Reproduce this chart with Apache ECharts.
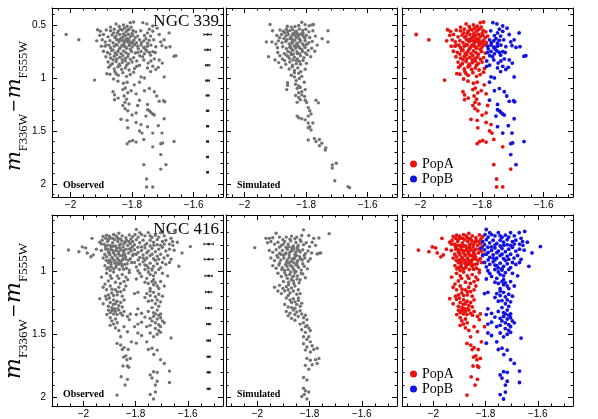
<!DOCTYPE html>
<html>
<head>
<meta charset="utf-8">
<script src="https://cdn.jsdelivr.net/npm/echarts@6/dist/echarts.min.js"></script>
<style>
  html, body { margin: 0; padding: 0; background: #fff; }
  #chart { width: 598px; height: 419px; }
</style>
</head>
<body>
<div id="chart"></div>
<script>
// tick labels
const xTicks = [-2, -1.8, -1.6];
const topYTicks = [0.5, 1, 1.5, 2];
const bottomYTicks = [1, 1.5, 2];

// photometric error bars (magnitude bins and half widths)
const topErrY = [0.59, 0.735, 0.88, 1.025, 1.165, 1.31, 1.455, 1.6, 1.745, 1.89];
const topErrX = [0.012, 0.009, 0.007, 0.006, 0.005, 0.004, 0.0035, 0.003, 0.003, 0.0025];
const bottomErrY = [0.79, 0.91, 1.04, 1.168, 1.294, 1.42, 1.55, 1.677, 1.8, 1.93];
const bottomErrX = [0.018, 0.017, 0.014, 0.012, 0.011, 0.008, 0.007, 0.006, 0.006, 0.006];

// NGC 339 observed, split in the two populations
const ngc339PopA = [
  [-1.852,0.490],[-1.828,0.500],[-1.806,0.478],[-1.795,0.472],[-1.842,0.515],[-1.816,0.512],[-1.870,0.520],[-1.803,0.520],
  [-1.912,0.545],[-1.903,0.560],[-1.884,0.548],[-1.870,0.555],[-1.858,0.540],[-1.845,0.558],[-1.832,0.548],[-1.820,0.565],[-1.810,0.540],[-1.797,0.552],[-1.788,0.565],[-1.860,0.575],[-1.825,0.530],
  [-1.905,0.598],[-1.893,0.590],[-1.878,0.612],[-1.865,0.595],[-1.852,0.605],[-1.840,0.590],[-1.830,0.615],[-1.822,0.600],[-1.812,0.588],[-1.805,0.610],[-1.798,0.596],[-1.790,0.620],[-1.782,0.605],[-1.836,0.625],[-1.815,0.628],
  [-1.915,0.650],[-1.897,0.640],[-1.887,0.660],[-1.872,0.648],[-1.862,0.668],[-1.850,0.640],[-1.842,0.658],[-1.833,0.645],[-1.826,0.672],[-1.818,0.652],[-1.810,0.640],[-1.803,0.662],[-1.795,0.645],[-1.786,0.668],[-1.808,0.678],[-1.820,0.635],
  [-1.900,0.700],[-1.884,0.690],[-1.870,0.715],[-1.858,0.700],[-1.848,0.690],[-1.838,0.712],[-1.828,0.698],[-1.818,0.720],[-1.810,0.695],[-1.800,0.708],[-1.792,0.688],[-1.842,0.728],[-1.875,0.690],
  [-1.893,0.748],[-1.880,0.760],[-1.866,0.742],[-1.855,0.765],[-1.846,0.750],[-1.836,0.770],[-1.828,0.745],[-1.820,0.762],[-1.812,0.775],[-1.802,0.750],[-1.790,0.765],[-1.872,0.775],
  [-1.885,0.800],[-1.870,0.812],[-1.858,0.795],[-1.850,0.820],[-1.840,0.805],[-1.830,0.790],[-1.822,0.815],[-1.814,0.800],[-1.805,0.825],[-1.795,0.808],[-1.862,0.828],
  [-1.878,0.850],[-1.864,0.865],[-1.852,0.845],[-1.842,0.870],[-1.832,0.855],[-1.822,0.840],[-1.812,0.862],[-1.800,0.850],[-1.870,0.880],
  [-1.876,0.900],[-1.858,0.915],[-1.846,0.895],[-1.834,0.920],[-1.822,0.905],[-1.810,0.925],[-1.792,0.910],[-1.840,0.885],
  [-1.882,0.960],[-1.872,0.965],[-1.852,0.960],[-1.845,0.975],[-1.830,0.950],[-1.818,0.985],[-1.806,0.968],[-1.795,0.945],
  [-1.838,0.540],[-1.815,0.550],[-1.848,0.575],[-1.828,0.585],[-1.800,0.580],[-1.856,0.618],[-1.843,0.638],[-1.826,0.652],[-1.812,0.662],[-1.798,0.672],
  [-1.852,0.685],[-1.833,0.690],[-1.822,0.705],[-1.806,0.730],[-1.862,0.735],[-1.850,0.780],[-1.832,0.828],[-1.818,0.880],[-1.856,0.940],[-1.888,0.700],
  [-2.014,0.590],[-1.973,0.640],[-1.922,1.020],
  [-1.846,1.030],[-1.828,1.050],[-1.816,1.040],[-1.793,1.065],[-1.860,1.010],
  [-1.862,1.130],[-1.857,1.160],[-1.830,1.110],[-1.822,1.095],[-1.814,1.140],[-1.803,1.120],[-1.787,1.150],[-1.826,1.170],
  [-1.857,1.205],[-1.845,1.190],[-1.823,1.230],[-1.818,1.200],[-1.810,1.245],[-1.782,1.260],[-1.830,1.260],
  [-1.823,1.290],[-1.814,1.310],[-1.787,1.330],[-1.800,1.350],
  [-1.836,1.390],[-1.816,1.400],[-1.787,1.420],[-1.771,1.440],
  [-1.814,1.470],[-1.776,1.500],[-1.768,1.520],
  [-1.816,1.620],[-1.798,1.590],[-1.787,1.605],[-1.762,1.580],[-1.733,1.650],[-1.808,1.600],
  [-1.762,1.818],[-1.707,1.860],[-1.753,1.953],[-1.753,2.028],[-1.733,2.028]
];
const ngc339PopB = [
  [-1.765,0.478],[-1.752,0.490],[-1.733,0.510],[-1.719,0.530],[-1.744,0.540],
  [-1.750,0.575],[-1.733,0.560],[-1.712,0.590],[-1.680,0.575],[-1.740,0.605],[-1.760,0.600],
  [-1.776,0.640],[-1.762,0.650],[-1.755,0.630],[-1.744,0.645],[-1.730,0.640],[-1.707,0.660],[-1.696,0.640],[-1.770,0.668],[-1.750,0.672],
  [-1.782,0.700],[-1.771,0.690],[-1.762,0.712],[-1.750,0.700],[-1.739,0.690],[-1.723,0.705],[-1.703,0.695],[-1.690,0.712],[-1.677,0.705],[-1.757,0.730],[-1.780,0.725],
  [-1.782,0.760],[-1.771,0.750],[-1.760,0.772],[-1.744,0.760],[-1.733,0.752],[-1.664,0.795],[-1.658,0.790],[-1.775,0.790],[-1.740,0.785],
  [-1.762,0.830],[-1.739,0.840],[-1.728,0.820],[-1.712,0.830],[-1.748,0.860],
  [-1.785,0.890],[-1.776,0.880],[-1.750,0.905],[-1.733,0.890],[-1.723,0.920],[-1.715,0.900],
  [-1.772,0.555],[-1.760,0.710],[-1.752,0.745],[-1.725,0.760],[-1.766,0.800],[-1.785,0.840],[-1.702,0.860],[-1.740,0.940],[-1.760,1.000],[-1.720,1.170],
  [-1.771,0.990],[-1.696,0.990],[-1.776,1.040],
  [-1.744,1.100],[-1.728,1.130],[-1.760,1.120],
  [-1.712,1.220],[-1.698,1.215],[-1.694,1.225],[-1.776,1.210],[-1.750,1.250],
  [-1.750,1.300],[-1.744,1.310],[-1.733,1.340],[-1.739,1.325],[-1.728,1.350],[-1.755,1.360],[-1.696,1.385],
  [-1.750,1.460],[-1.715,1.450],[-1.733,1.520],[-1.703,1.520],
  [-1.701,1.613],[-1.664,1.600],[-1.707,1.620],[-1.707,1.723],
  [-1.690,1.818]
];
const ngc339Sim = [
  [-1.917,0.495],[-1.861,0.512],[-1.848,0.520],[-1.814,0.475],[-1.803,0.497],[-1.790,0.507],[-1.781,0.500],[-1.776,0.495],[-1.824,0.505],[-1.836,0.515],
  [-1.909,0.555],[-1.885,0.548],[-1.874,0.560],[-1.864,0.540],[-1.853,0.553],[-1.843,0.545],[-1.832,0.560],[-1.822,0.538],[-1.811,0.552],[-1.801,0.540],[-1.791,0.565],[-1.778,0.555],[-1.729,0.555],[-1.869,0.575],[-1.838,0.575],[-1.810,0.578],
  [-1.895,0.600],[-1.880,0.590],[-1.866,0.605],[-1.858,0.590],[-1.849,0.612],[-1.841,0.595],[-1.832,0.620],[-1.825,0.600],[-1.817,0.585],[-1.808,0.610],[-1.799,0.598],[-1.788,0.618],[-1.770,0.605],[-1.748,0.630],[-1.845,0.635],[-1.822,0.630],[-1.872,0.628],
  [-1.929,0.660],[-1.911,0.660],[-1.890,0.650],[-1.878,0.668],[-1.866,0.655],[-1.855,0.678],[-1.846,0.660],[-1.837,0.645],[-1.830,0.672],[-1.820,0.658],[-1.811,0.680],[-1.803,0.650],[-1.791,0.668],[-1.780,0.655],[-1.729,0.660],[-1.764,0.690],[-1.851,0.695],[-1.827,0.695],
  [-1.893,0.715],[-1.876,0.705],[-1.864,0.725],[-1.853,0.710],[-1.843,0.738],[-1.834,0.718],[-1.824,0.705],[-1.814,0.730],[-1.803,0.712],[-1.793,0.740],[-1.782,0.720],[-1.772,0.748],[-1.859,0.750],[-1.830,0.752],
  [-1.922,0.800],[-1.885,0.790],[-1.871,0.770],[-1.859,0.795],[-1.848,0.780],[-1.838,0.805],[-1.828,0.770],[-1.818,0.790],[-1.807,0.810],[-1.797,0.780],[-1.785,0.800],[-1.841,0.775],
  [-1.901,0.830],[-1.889,0.855],[-1.870,0.835],[-1.853,0.850],[-1.843,0.830],[-1.832,0.865],[-1.822,0.845],[-1.810,0.835],[-1.799,0.862],[-1.866,0.870],[-1.832,0.835],
  [-1.881,0.900],[-1.855,0.915],[-1.845,0.895],[-1.838,0.930],[-1.827,0.905],[-1.817,0.940],[-1.803,0.918],[-1.838,0.950],[-1.824,0.955],
  [-1.848,0.975],[-1.838,0.990],[-1.822,1.005],[-1.814,0.985],[-1.832,1.025],[-1.806,1.040],
  [-1.860,1.045],[-1.860,1.070],[-1.863,1.110],[-1.834,1.060],[-1.824,1.075],[-1.819,1.090],[-1.829,1.100],[-1.814,1.130],[-1.803,1.110],[-1.824,1.140],
  [-1.834,1.165],[-1.824,1.185],[-1.814,1.160],[-1.805,1.175],[-1.819,1.205],[-1.803,1.210],[-1.798,1.232],[-1.768,1.210],[-1.760,1.235],[-1.829,1.230],
  [-1.793,1.280],[-1.788,1.310],[-1.784,1.340],[-1.793,1.360],[-1.829,1.360],[-1.824,1.375],[-1.814,1.385],[-1.803,1.395],[-1.793,1.425],
  [-1.778,1.425],[-1.788,1.460],[-1.784,1.490],[-1.793,1.470],
  [-1.793,1.585],[-1.773,1.570],[-1.757,1.580],[-1.768,1.600],[-1.749,1.615],[-1.757,1.640],[-1.736,1.660],[-1.738,1.680],
  [-1.715,1.820],[-1.715,1.850],[-1.702,1.805],[-1.707,1.970],[-1.664,2.025],[-1.659,2.035],
  [-1.860,0.565],[-1.844,0.585],[-1.828,0.582],[-1.812,0.595],[-1.804,0.625],[-1.818,0.645],[-1.834,0.600],[-1.852,0.628],[-1.862,0.640],[-1.844,0.670],
  [-1.832,0.690],[-1.820,0.720],[-1.807,0.695],[-1.798,0.682],[-1.838,0.700],[-1.848,0.725],[-1.812,0.750],[-1.802,0.765],[-1.822,0.770],[-1.850,0.762],
  [-1.864,0.785],[-1.854,0.815],[-1.828,0.820],[-1.818,0.870],[-1.844,0.880],[-1.877,0.820],[-1.892,0.760],[-1.898,0.680],[-1.886,0.620]
];

// NGC 416 observed, split in the two populations
const ngc416PopA = [
  [-2.057,0.837],[-2.017,0.850],[-2.004,0.812],[-1.991,0.820],[-1.967,0.745],[-1.971,0.890],[-1.962,0.875],[-1.931,0.790],[-1.950,0.830],[-1.985,0.860],
  [-1.924,0.730],[-1.911,0.720],[-1.897,0.742],[-1.884,0.715],[-1.871,0.735],[-1.864,0.705],[-1.851,0.725],[-1.837,0.740],[-1.824,0.718],[-1.811,0.732],[-1.880,0.755],[-1.857,0.750],[-1.904,0.755],
  [-1.937,0.775],[-1.920,0.790],[-1.907,0.770],[-1.897,0.800],[-1.888,0.780],[-1.877,0.805],[-1.868,0.770],[-1.858,0.790],[-1.848,0.812],[-1.840,0.775],[-1.830,0.800],[-1.820,0.785],[-1.812,0.810],[-1.893,0.815],[-1.862,0.818],
  [-1.931,0.840],[-1.914,0.830],[-1.904,0.852],[-1.894,0.835],[-1.884,0.860],[-1.874,0.840],[-1.866,0.865],[-1.856,0.835],[-1.846,0.855],[-1.836,0.830],[-1.827,0.860],[-1.817,0.845],[-1.808,0.870],[-1.898,0.875],[-1.878,0.878],[-1.850,0.880],
  [-1.924,0.900],[-1.911,0.890],[-1.900,0.915],[-1.890,0.895],[-1.880,0.920],[-1.870,0.900],[-1.860,0.925],[-1.848,0.905],[-1.838,0.890],[-1.828,0.918],[-1.815,0.935],[-1.904,0.935],[-1.870,0.938],
  [-1.917,0.960],[-1.904,0.975],[-1.894,0.950],[-1.884,0.985],[-1.874,0.960],[-1.862,0.990],[-1.851,0.965],[-1.835,0.980],[-1.824,0.995],[-1.897,0.998],[-1.864,0.948],
  [-1.915,0.810],[-1.900,0.862],[-1.887,0.905],[-1.872,0.822],[-1.860,0.880],[-1.842,0.870],[-1.832,0.945],[-1.820,0.905],[-1.888,0.745],[-1.866,0.748],
  [-1.845,0.790],[-1.908,0.800],[-1.879,0.940],[-1.854,0.945],[-1.893,0.970],[-1.841,0.950],[-1.918,0.870],[-1.862,0.798],[-1.826,0.770],[-1.884,0.805],
  [-1.928,0.760],[-1.914,0.745],[-1.900,0.728],[-1.875,0.725],[-1.852,0.765],[-1.835,0.760],[-1.818,0.750],[-1.906,0.830],[-1.886,0.842],[-1.864,0.850],
  [-1.844,0.838],[-1.823,0.828],[-1.912,0.918],[-1.893,0.930],[-1.866,0.912],[-1.852,0.918],[-1.838,0.908],[-1.910,0.985],[-1.876,0.975],[-1.846,0.988],
  [-1.911,1.020],[-1.897,1.040],[-1.884,1.010],[-1.864,1.060],[-1.851,1.030],[-1.837,1.050],[-1.824,1.015],[-1.904,1.080],[-1.877,1.090],[-1.844,1.085],[-1.830,1.070],
  [-1.930,1.050],[-1.892,1.060],[-1.870,1.040],[-1.858,1.100],[-1.917,1.105],
  [-1.924,1.130],[-1.911,1.150],[-1.897,1.120],[-1.891,1.175],[-1.877,1.150],[-1.864,1.130],[-1.857,1.165],[-1.844,1.150],[-1.837,1.120],[-1.904,1.190],[-1.884,1.195],[-1.870,1.190],[-1.851,1.200],
  [-1.890,1.145],[-1.870,1.165],[-1.915,1.200],[-1.900,1.215],
  [-1.937,1.220],[-1.911,1.225],[-1.897,1.250],[-1.884,1.230],[-1.877,1.260],[-1.871,1.240],[-1.864,1.275],[-1.857,1.250],[-1.851,1.285],[-1.904,1.280],[-1.891,1.290],[-1.880,1.298],[-1.844,1.230],[-1.924,1.260],
  [-1.885,1.265],[-1.868,1.300],[-1.885,1.305],[-1.850,1.350],[-1.910,1.345],
  [-1.904,1.310],[-1.897,1.330],[-1.891,1.315],[-1.884,1.340],[-1.877,1.320],[-1.871,1.345],[-1.864,1.310],[-1.857,1.335],[-1.844,1.320],[-1.831,1.360],[-1.820,1.340],[-1.897,1.370],[-1.877,1.380],[-1.891,1.395],[-1.824,1.385],
  [-1.897,1.430],[-1.877,1.450],[-1.864,1.470],[-1.844,1.440],[-1.831,1.480],[-1.804,1.440],[-1.870,1.410],[-1.884,1.420],
  [-1.871,1.572],[-1.857,1.585],[-1.851,1.620],[-1.844,1.605],[-1.828,1.620],[-1.837,1.670],[-1.833,1.700],[-1.820,1.690],[-1.848,1.750],[-1.831,1.750],[-1.826,1.760],[-1.855,1.835],[-1.831,1.855],[-1.871,1.979],
  [-1.857,1.520],[-1.846,1.680],[-1.816,1.560],[-1.840,1.900]
];
const ngc416PopB = [
  [-1.797,0.675],[-1.777,0.715],[-1.764,0.725],[-1.751,0.700],[-1.724,0.720],[-1.704,0.700],[-1.671,0.700],[-1.650,0.690],[-1.790,0.735],[-1.737,0.738],
  [-1.802,0.715],[-1.784,0.700],[-1.744,0.725],[-1.711,0.735],[-1.690,0.725],
  [-1.811,0.770],[-1.797,0.755],[-1.784,0.780],[-1.771,0.760],[-1.757,0.785],[-1.744,0.760],[-1.731,0.775],[-1.717,0.755],[-1.697,0.770],[-1.684,0.760],[-1.664,0.745],[-1.658,0.770],[-1.804,0.795],[-1.764,0.798],[-1.717,0.795],[-1.670,0.790],
  [-1.777,0.812],[-1.744,0.805],[-1.730,0.800],[-1.704,0.800],[-1.690,0.790],[-1.657,0.800],[-1.640,0.775],
  [-1.817,0.820],[-1.804,0.835],[-1.791,0.815],[-1.777,0.840],[-1.764,0.820],[-1.751,0.845],[-1.737,0.825],[-1.724,0.850],[-1.711,0.830],[-1.697,0.815],[-1.684,0.845],[-1.670,0.830],[-1.652,0.838],[-1.590,0.810],[-1.622,0.860],[-1.790,0.855],[-1.757,0.858],
  [-1.811,0.880],[-1.797,0.870],[-1.784,0.895],[-1.771,0.875],[-1.757,0.900],[-1.744,0.880],[-1.731,0.905],[-1.717,0.885],[-1.704,0.870],[-1.691,0.900],[-1.677,0.880],[-1.664,0.910],[-1.764,0.915],[-1.724,0.918],
  [-1.771,0.900],[-1.737,0.870],[-1.711,0.910],[-1.697,0.935],[-1.670,0.935],[-1.790,0.915],
  [-1.804,0.935],[-1.784,0.950],[-1.771,0.930],[-1.757,0.960],[-1.744,0.940],[-1.731,0.965],[-1.717,0.945],[-1.704,0.975],[-1.684,0.950],[-1.634,0.965],[-1.797,0.970],[-1.751,0.978],
  [-1.764,0.955],[-1.737,0.985],[-1.711,0.990],[-1.697,1.020],[-1.784,1.020],
  [-1.791,1.000],[-1.764,0.990],[-1.751,1.010],[-1.737,0.995],[-1.724,1.015],[-1.744,1.030],[-1.677,1.040],[-1.777,1.045],[-1.731,1.040],
  [-1.797,1.065],[-1.764,1.090],[-1.751,1.100],[-1.737,1.085],[-1.731,1.110],[-1.717,1.120],[-1.724,1.095],[-1.690,1.120],[-1.744,1.140],[-1.711,1.140],
  [-1.757,1.060],[-1.731,1.070],[-1.704,1.085],[-1.744,1.160],[-1.711,1.185],
  [-1.804,1.180],[-1.791,1.170],[-1.757,1.180],[-1.744,1.195],[-1.731,1.170],[-1.724,1.205],[-1.697,1.200],[-1.717,1.230],[-1.751,1.240],[-1.704,1.245],
  [-1.764,1.210],[-1.737,1.235],
  [-1.724,1.260],[-1.737,1.290],[-1.711,1.280],[-1.751,1.320],[-1.731,1.330],[-1.717,1.310],[-1.704,1.340],[-1.791,1.300],[-1.777,1.335],[-1.797,1.345],
  [-1.724,1.340],[-1.711,1.350],[-1.737,1.395],
  [-1.764,1.365],[-1.744,1.375],[-1.731,1.360],[-1.717,1.380],[-1.704,1.370],[-1.697,1.395],[-1.724,1.410],[-1.711,1.425],[-1.690,1.410],[-1.744,1.430],[-1.791,1.420],[-1.777,1.405],
  [-1.757,1.440],[-1.704,1.440],[-1.744,1.490],
  [-1.724,1.455],[-1.711,1.470],[-1.717,1.500],[-1.704,1.485],[-1.664,1.530],[-1.791,1.490],[-1.777,1.510],[-1.731,1.520],
  [-1.797,1.570],[-1.757,1.560],[-1.730,1.660],[-1.704,1.700],
  [-1.751,1.620],[-1.737,1.610],[-1.717,1.625],[-1.690,1.730],[-1.670,1.790],[-1.731,1.795],[-1.717,1.800],[-1.744,1.820],[-1.737,1.845],[-1.717,1.870],[-1.724,1.900],[-1.670,1.880],[-1.744,1.975],[-1.724,1.955],[-1.731,2.010]
];
const ngc416Sim = [
  [-1.928,0.705],[-1.823,0.678],[-1.725,0.708],[-1.967,0.745],[-1.954,0.745],[-1.941,0.740],[-1.915,0.735],[-1.889,0.735],[-1.869,0.727],[-1.849,0.735],[-1.830,0.722],[-1.803,0.722],[-1.784,0.745],[-1.764,0.742],[-1.902,0.755],[-1.875,0.752],[-1.856,0.748],[-1.836,0.755],
  [-2.010,0.818],[-1.961,0.780],[-1.948,0.770],[-1.934,0.790],[-1.921,0.775],[-1.908,0.800],[-1.895,0.770],[-1.882,0.790],[-1.872,0.765],[-1.862,0.805],[-1.852,0.778],[-1.843,0.800],[-1.833,0.770],[-1.823,0.795],[-1.813,0.780],[-1.800,0.810],[-1.790,0.775],[-1.777,0.800],[-1.915,0.815],[-1.890,0.815],[-1.868,0.818],[-1.846,0.815],
  [-1.954,0.840],[-1.941,0.855],[-1.928,0.835],[-1.915,0.862],[-1.904,0.840],[-1.895,0.870],[-1.885,0.830],[-1.876,0.855],[-1.866,0.840],[-1.856,0.870],[-1.846,0.830],[-1.836,0.852],[-1.826,0.835],[-1.816,0.865],[-1.806,0.845],[-1.792,0.860],[-1.771,0.868],[-1.764,0.862],[-1.757,0.860],[-1.878,0.875],[-1.900,0.878],[-1.850,0.878],
  [-1.948,0.900],[-1.934,0.920],[-1.921,0.895],[-1.910,0.915],[-1.898,0.900],[-1.888,0.930],[-1.878,0.895],[-1.868,0.920],[-1.858,0.905],[-1.848,0.935],[-1.838,0.890],[-1.828,0.915],[-1.818,0.900],[-1.805,0.925],[-1.797,0.905],[-1.880,0.940],[-1.860,0.938],[-1.915,0.938],
  [-1.941,0.960],[-1.928,0.980],[-1.917,0.955],[-1.904,0.975],[-1.892,0.950],[-1.882,0.990],[-1.872,0.960],[-1.862,0.985],[-1.852,0.955],[-1.842,0.975],[-1.832,0.995],[-1.820,0.965],[-1.808,0.985],[-1.895,0.998],[-1.858,0.998],
  [-1.900,0.790],[-1.880,0.810],[-1.860,0.825],[-1.840,0.840],[-1.870,0.845],[-1.890,0.860],[-1.855,0.890],[-1.835,0.905],[-1.865,0.905],[-1.885,0.915],
  [-1.845,0.920],[-1.872,0.930],[-1.826,0.945],[-1.846,0.960],[-1.866,0.970],[-1.886,0.965],[-1.906,0.990],[-1.852,1.005],[-1.872,1.010],[-1.832,1.020],
  [-1.890,1.035],[-1.860,1.040],[-1.870,1.070],[-1.848,1.065],[-1.910,0.870],[-1.925,0.880],[-1.852,0.850],[-1.820,0.880],[-1.880,1.110],[-1.860,1.100],
  [-1.921,1.020],[-1.908,1.045],[-1.895,1.015],[-1.885,1.060],[-1.876,1.030],[-1.866,1.050],[-1.856,1.015],[-1.846,1.040],[-1.836,1.070],[-1.826,1.025],[-1.816,1.055],[-1.900,1.085],[-1.880,1.090],[-1.862,1.080],[-1.840,1.095],
  [-1.934,1.130],[-1.915,1.115],[-1.902,1.140],[-1.895,1.160],[-1.889,1.125],[-1.882,1.150],[-1.875,1.175],[-1.869,1.135],[-1.862,1.160],[-1.856,1.120],[-1.849,1.185],[-1.843,1.150],[-1.908,1.180],[-1.882,1.195],[-1.836,1.180],[-1.921,1.160],
  [-1.889,1.215],[-1.875,1.230],[-1.869,1.250],[-1.862,1.220],[-1.856,1.245],[-1.849,1.265],[-1.843,1.235],[-1.836,1.280],[-1.830,1.255],[-1.895,1.265],[-1.882,1.285],[-1.869,1.290],[-1.856,1.295],[-1.843,1.215],
  [-1.889,1.320],[-1.875,1.335],[-1.862,1.310],[-1.856,1.345],[-1.849,1.325],[-1.843,1.360],[-1.836,1.315],[-1.830,1.340],[-1.823,1.370],[-1.816,1.350],[-1.869,1.375],[-1.856,1.390],[-1.810,1.385],[-1.882,1.355],
  [-1.836,1.420],[-1.823,1.410],[-1.816,1.440],[-1.810,1.430],[-1.830,1.465],[-1.803,1.450],[-1.816,1.485],[-1.797,1.470],
  [-1.823,1.520],[-1.810,1.540],[-1.803,1.520],[-1.797,1.560],[-1.823,1.575],[-1.810,1.600],[-1.790,1.590],[-1.816,1.625],[-1.797,1.640],[-1.784,1.620],[-1.771,1.610],
  [-1.810,1.690],[-1.797,1.705],[-1.777,1.700],[-1.764,1.690],[-1.816,1.745],[-1.790,1.740],[-1.771,1.730],[-1.803,1.775],
  [-1.823,1.840],[-1.810,1.860],[-1.823,1.925],[-1.816,1.945],[-1.803,1.955],[-1.830,1.990],[-1.810,2.010],[-1.820,1.975]
];

const GRAY = '#727272';
const RED = '#e8120f';
const BLUE = '#1212e2';
const numFont = 'Liberation Sans';

// row / column geometry of the six panels
const rows = [
  { top: 8, height: 189, xMin: -2.06, xMax: -1.505, xMinor: 0.04, yMin: 0.34, yMax: 2.123, yTicks: topYTicks, yMajors: [0.5, 1, 1.5, 2] },
  { top: 215, height: 191, xMin: -2.12, xMax: -1.465, xMinor: 0.05, yMin: 0.561, yMax: 2.065, yTicks: bottomYTicks, yMajors: [1, 1.5, 2] }
];
const colLeft = [52, 226, 402];
const colWidth = 171;

function minorValues(min, max, step, majors) {
  const out = [];
  for (let k = Math.ceil(min / step - 1e-9); k * step <= max + 1e-9; k++) {
    const v = +(k * step).toFixed(4);
    if (!majors.some(m => Math.abs(m - v) < 1e-6)) out.push(v);
  }
  return out;
}
const fmt = v => (v < 0 ? '\u2212' + String(+(-v).toFixed(2)) : String(v));

const grid = [], xAxis = [], yAxis = [];
const line = { color: '#000', width: 1 };
rows.forEach((r, ri) => {
  colLeft.forEach((left, ci) => {
    const g = grid.length;
    grid.push({ left: left, top: r.top, width: colWidth, height: r.height, show: false });
    const xMinors = minorValues(r.xMin, r.xMax, r.xMinor, xTicks);
    const yMinors = minorValues(r.yMin, r.yMax, 0.1, r.yMajors);
    ['bottom', 'top'].forEach(pos => {
      xAxis.push({
        gridIndex: g, type: 'value', min: r.xMin, max: r.xMax, position: pos,
        axisLine: { show: true, onZero: false, lineStyle: line },
        axisTick: { show: true, inside: true, length: 5, customValues: xTicks, lineStyle: line },
        axisLabel: { show: pos === 'bottom', customValues: xTicks, formatter: fmt, margin: 3,
          fontFamily: numFont, fontSize: 10, color: '#000' },
        splitLine: { show: false }
      });
      xAxis.push({
        gridIndex: g, type: 'value', min: r.xMin, max: r.xMax, position: pos,
        axisLine: { show: false, onZero: false },
        axisTick: { show: true, inside: true, length: 2.5, customValues: xMinors, lineStyle: line },
        axisLabel: { show: false }, splitLine: { show: false }
      });
    });
    ['left', 'right'].forEach(pos => {
      yAxis.push({
        gridIndex: g, type: 'value', min: r.yMin, max: r.yMax, inverse: true, position: pos,
        axisLine: { show: true, onZero: false, lineStyle: line },
        axisTick: { show: true, inside: true, length: 5, customValues: r.yMajors, lineStyle: line },
        axisLabel: { show: pos === 'left' && ci === 0, customValues: r.yTicks, formatter: fmt, margin: 6,
          fontFamily: numFont, fontSize: 10, color: '#000' },
        splitLine: { show: false }
      });
      yAxis.push({
        gridIndex: g, type: 'value', min: r.yMin, max: r.yMax, inverse: true, position: pos,
        axisLine: { show: false, onZero: false },
        axisTick: { show: true, inside: true, length: 2.5, customValues: yMinors, lineStyle: line },
        axisLabel: { show: false }, splitLine: { show: false }
      });
    });
  });
});

function scatter(name, g, data, color, size) {
  return {
    name: name, type: 'scatter', xAxisIndex: 4 * g, yAxisIndex: 4 * g, data: data,
    symbol: 'circle', symbolSize: size, itemStyle: { color: color, opacity: 1 },
    silent: true, z: 3
  };
}

function errBars(g, xc, ys, es) {
  return {
    type: 'custom', xAxisIndex: 4 * g, yAxisIndex: 4 * g, silent: true, z: 4,
    data: ys.map((y, i) => [xc, y, es[i]]),
    renderItem: function (params, api) {
      const x = api.value(0), y = api.value(1), e = api.value(2);
      const a = api.coord([x - e, y]), b = api.coord([x + e, y]), c = api.coord([x, y]);
      const st = { stroke: '#222', lineWidth: 1 };
      return {
        type: 'group', children: [
          { type: 'line', shape: { x1: a[0], y1: a[1], x2: b[0], y2: b[1] }, style: st },
          { type: 'line', shape: { x1: a[0], y1: a[1] - 1.2, x2: a[0], y2: a[1] + 1.2 }, style: st },
          { type: 'line', shape: { x1: b[0], y1: b[1] - 1.2, x2: b[0], y2: b[1] + 1.2 }, style: st },
          { type: 'circle', shape: { cx: c[0], cy: c[1], r: 1.3 }, style: { fill: '#222' } }
        ]
      };
    }
  };
}

const series = [
  scatter('obs339', 0, ngc339PopA.concat(ngc339PopB), GRAY, 3.4),
  errBars(0, -1.555, topErrY, topErrX),
  scatter('sim339', 1, ngc339Sim, GRAY, 3.4),
  scatter('PopA', 2, ngc339PopA, RED, 3.8),
  scatter('PopB', 2, ngc339PopB, BLUE, 3.8),
  scatter('obs416', 3, ngc416PopA.concat(ngc416PopB), GRAY, 3.4),
  errBars(3, -1.52, bottomErrY, bottomErrX),
  scatter('sim416', 4, ngc416Sim, GRAY, 3.4),
  scatter('PopA', 5, ngc416PopA, RED, 3.8),
  scatter('PopB', 5, ngc416PopB, BLUE, 3.8)
];

function legendAt(top) {
  return {
    data: ['PopA', 'PopB'], orient: 'vertical', left: 410, top: top, padding: 0,
    icon: 'circle', itemWidth: 7, itemHeight: 7, itemGap: 1, selectedMode: false,
    textStyle: { fontFamily: 'Liberation Serif', fontSize: 14, lineHeight: 14, color: '#000' }
  };
}

const yTitle = (cy, big) => ({
  type: 'text', x: 17, y: cy, rotation: Math.PI / 2,
  style: {
    text: '{m|m}{s|F336W}{d|\u2212}{m|m}{s|F555W}',
    align: 'center', verticalAlign: 'middle',
    rich: {
      m: { fontFamily: 'DejaVu Serif', fontStyle: 'italic', fontSize: big ? 22 : 21, padding: [0, 0, 5, 0] },
      s: { fontFamily: 'Liberation Serif', fontSize: big ? 13 : 12.5, verticalAlign: 'bottom' },
      d: { fontFamily: 'DejaVu Sans', fontSize: big ? 17 : 16, padding: [0, 1, 4, 1] }
    }
  }
});
const note = (x, y, text, align, size, bold) => ({
  type: 'text', x: x, y: y,
  style: { text: text, align: align, verticalAlign: 'middle', fontFamily: 'Liberation Serif',
    fontSize: size, fontWeight: bold ? 'bold' : 'normal', fill: '#000' }
});

const chart = echarts.init(document.getElementById('chart'));
chart.setOption({
  animation: false,
  backgroundColor: '#fff',
  grid: grid,
  xAxis: xAxis,
  yAxis: yAxis,
  legend: [legendAt(157), legendAt(367)],
  series: series,
  graphic: [
    yTitle(106, false),
    yTitle(311, true),
    note(219, 21.5, 'NGC 339', 'right', 17, false),
    note(219, 230, 'NGC 416', 'right', 17, false),
    note(63, 185.5, 'Observed', 'left', 10, true),
    note(237, 185.5, 'Simulated', 'left', 10, true),
    note(63, 394, 'Observed', 'left', 10, true),
    note(237, 394, 'Simulated', 'left', 10, true)
  ]
});
</script>
</body>
</html>
